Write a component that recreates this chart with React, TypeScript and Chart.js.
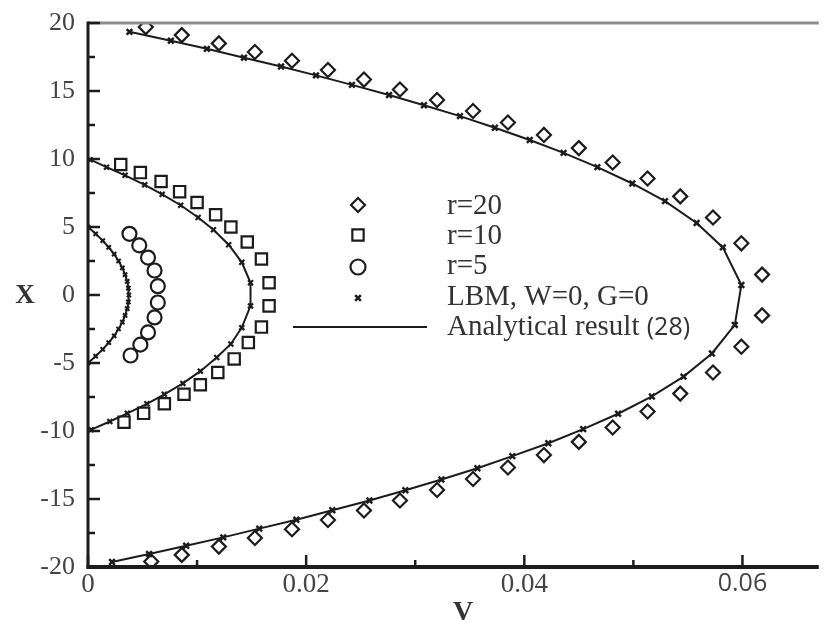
import React, { useEffect, useRef } from 'react';
import { Chart, registerables } from 'chart.js';

Chart.register(...registerables);

// ---------- axis ticks ----------
const xMajorTicks = [0, 0.02, 0.04, 0.06];
const xMinorTicks = [0.01, 0.03, 0.05];
const yMajorTicks = [-20, -15, -10, -5, 0, 5, 10, 15, 20];
const yMinorTicks = [-17.5, -12.5, -7.5, -2.5, 2.5, 7.5, 12.5, 17.5];

// ---------- legend ----------
const legendLabels = ['r=20', 'r=10', 'r=5', 'LBM, W=0, G=0', 'Analytical result '];
const legendSuffix = '(28)';
const xTitle = 'V';
const yTitle = 'X';

// ---------- r = 20 (diamonds) ----------
const r20X = [19.7, 19.11, 18.5, 17.87, 17.22, 16.54, 15.84, 15.11, 14.34, 13.53, 12.68, 11.77, 10.8, 9.74, 8.57, 7.25, 5.7, 3.8, 1.5,
  -1.5, -3.8, -5.7, -7.25, -8.57, -9.74, -10.8, -11.77, -12.68, -13.53, -14.34, -15.11, -15.84, -16.54, -17.22, -17.87, -18.5, -19.11, -19.6];
const r20V = [0.0053, 0.0086, 0.0120, 0.0153, 0.0187, 0.0220, 0.0253, 0.0286, 0.0320, 0.0353, 0.0385, 0.0418, 0.0450, 0.0481, 0.0513, 0.0543, 0.0573, 0.0599, 0.0618,
  0.0618, 0.0599, 0.0573, 0.0543, 0.0513, 0.0481, 0.0450, 0.0418, 0.0385, 0.0353, 0.0320, 0.0286, 0.0253, 0.0220, 0.0187, 0.0153, 0.0120, 0.0086, 0.0058];

// ---------- r = 10 (squares) ----------
const r10X = [9.6, 9.0, 8.35, 7.6, 6.8, 5.9, 5.0, 3.9, 2.65, 0.9, -0.8, -2.36, -3.5, -4.7, -5.7, -6.6, -7.3, -8.0, -8.7, -9.35];
const r10V = [0.0030, 0.0048, 0.0067, 0.0084, 0.0100, 0.0117, 0.0131, 0.0146, 0.0159, 0.0166, 0.0166, 0.0159, 0.0147, 0.0134, 0.0119, 0.0103, 0.0088, 0.0070, 0.0051, 0.0033];

// ---------- r = 5 (circles) ----------
const r5X = [4.5, 3.65, 2.75, 1.8, 0.65, -0.55, -1.65, -2.75, -3.65, -4.45];
const r5V = [0.0038, 0.0047, 0.0055, 0.0061, 0.0064, 0.0064, 0.0061, 0.0055, 0.0048, 0.0039];

// ---------- LBM, W=0, G=0 (crosses, joined by the analytical line) ----------
const lbm20X = [19.35, 18.7, 18.1, 17.45, 16.8, 16.15, 15.45, 14.7, 13.95, 13.15, 12.3, 11.4, 10.45, 9.4, 8.2, 6.9, 5.3, 3.5, 0.74,
  -2.2, -4.3, -6.0, -7.46, -8.73, -9.86, -10.9, -11.85, -12.74, -13.57, -14.36, -15.11, -15.83, -16.52, -17.18, -17.82, -18.44, -19.04, -19.63];
const lbm20V = [0.0038, 0.0076, 0.0109, 0.0143, 0.0177, 0.0209, 0.0242, 0.0276, 0.0308, 0.0341, 0.0373, 0.0405, 0.0436, 0.0467, 0.0499, 0.0529, 0.0558, 0.0582, 0.0599,
  0.0593, 0.0572, 0.0546, 0.0517, 0.0486, 0.0454, 0.0422, 0.0389, 0.0357, 0.0324, 0.0291, 0.0258, 0.0224, 0.0191, 0.0157, 0.0124, 0.0090, 0.0056, 0.0022];

const lbm10X = [9.95, 9.4, 8.8, 8.1, 7.4, 6.6, 5.7, 4.8, 3.7, 2.4, 0.9, -0.8, -2.4, -3.6, -4.6, -5.6, -6.5, -7.3, -8.0, -8.7, -9.3, -9.9];
const lbm10V = [0.0002, 0.0017, 0.0034, 0.0052, 0.0068, 0.0085, 0.0101, 0.0115, 0.0129, 0.0141, 0.0149, 0.0149, 0.0141, 0.0131, 0.0118, 0.0103, 0.0087, 0.0070, 0.0054, 0.0036, 0.0020, 0.0003];

const lbm5X = [5, 4.5, 4, 3.5, 3, 2.5, 2, 1.5, 1, 0.5, 0, -0.5, -1, -1.5, -2, -2.5, -3, -3.5, -4, -4.5, -5];
const lbm5V = [0, 0.0007, 0.00135, 0.0019, 0.0024, 0.0028, 0.00315, 0.0034, 0.0036, 0.0037, 0.00375, 0.0037, 0.0036, 0.0034, 0.00315, 0.0028, 0.0024, 0.0019, 0.00135, 0.0007, 0];

const INK = '#1c1c1c';
const TEXT = '#333333';
const SERIF = '"Liberation Serif", "Times New Roman", serif';
const SANS = '"Open Sans", "Liberation Sans", sans-serif';

const pts = (xs: number[], vs: number[]) => xs.map((X, i) => ({ x: vs[i], y: X }));

function marker(ctx: CanvasRenderingContext2D, style: string, x: number, y: number, r: number) {
  ctx.beginPath();
  if (style === 'rectRot') {
    ctx.moveTo(x, y - r); ctx.lineTo(x + r, y); ctx.lineTo(x, y + r); ctx.lineTo(x - r, y); ctx.closePath();
  } else if (style === 'rect') {
    const s = r * Math.SQRT1_2;
    ctx.rect(x - s, y - s, 2 * s, 2 * s);
  } else if (style === 'circle') {
    ctx.arc(x, y, r, 0, Math.PI * 2);
  } else {
    const s = r * Math.SQRT1_2;
    ctx.moveTo(x - s, y - s); ctx.lineTo(x + s, y + s);
    ctx.moveTo(x + s, y - s); ctx.lineTo(x - s, y + s);
  }
  ctx.stroke();
}

const decorPlugin = {
  id: 'decor',
  afterDraw(chart: any) {
    const { ctx, chartArea: ca, scales } = chart;
    const xs = scales.x;
    const ys = scales.y;
    ctx.save();
    ctx.lineCap = 'butt';
    // top frame line
    ctx.strokeStyle = '#8e8e8e';
    ctx.lineWidth = 3;
    ctx.beginPath(); ctx.moveTo(ca.left, ca.top); ctx.lineTo(ca.right, ca.top); ctx.stroke();
    // left axis
    ctx.strokeStyle = INK;
    ctx.lineWidth = 3;
    ctx.beginPath(); ctx.moveTo(ca.left, ca.top - 1.5); ctx.lineTo(ca.left, ca.bottom + 2); ctx.stroke();
    // bottom axis
    ctx.lineWidth = 4;
    ctx.beginPath(); ctx.moveTo(ca.left - 1.5, ca.bottom); ctx.lineTo(ca.right, ca.bottom); ctx.stroke();
    // y ticks (inward)
    ctx.lineWidth = 2.5;
    yMajorTicks.forEach((v) => {
      const p = ys.getPixelForValue(v);
      ctx.beginPath(); ctx.moveTo(ca.left, p); ctx.lineTo(ca.left + 12, p); ctx.stroke();
    });
    yMinorTicks.forEach((v) => {
      const p = ys.getPixelForValue(v);
      ctx.beginPath(); ctx.moveTo(ca.left, p); ctx.lineTo(ca.left + 7, p); ctx.stroke();
    });
    // x ticks (inward)
    xMajorTicks.forEach((v) => {
      const p = xs.getPixelForValue(v);
      ctx.beginPath(); ctx.moveTo(p, ca.bottom); ctx.lineTo(p, ca.bottom - 12); ctx.stroke();
    });
    xMinorTicks.forEach((v) => {
      const p = xs.getPixelForValue(v);
      ctx.beginPath(); ctx.moveTo(p, ca.bottom); ctx.lineTo(p, ca.bottom - 7); ctx.stroke();
    });
    // axis titles
    ctx.fillStyle = TEXT;
    ctx.font = `bold 27px ${SERIF}`;
    ctx.textAlign = 'center';
    ctx.textBaseline = 'middle';
    ctx.fillText(yTitle, 25, 296);
    ctx.textBaseline = 'alphabetic';
    ctx.font = `bold 28px ${SERIF}`;
    ctx.fillText(xTitle, 463, 620);

    // legend
    const mx = 358;
    const tx = 447;
    const markerY = [205, 235, 267, 298];
    const textY = [206, 236, 266, 297, 327];
    const styles = ['rectRot', 'rect', 'circle', 'crossRot'];
    const radii = [7, 8, 7.5, 4];
    ctx.strokeStyle = INK;
    styles.forEach((s, i) => {
      ctx.lineWidth = s === 'crossRot' ? 2.5 : 2.2;
      marker(ctx, s, mx, markerY[i], radii[i]);
    });
    ctx.lineWidth = 2;
    ctx.beginPath(); ctx.moveTo(293, 327); ctx.lineTo(427, 327); ctx.stroke();
    ctx.fillStyle = TEXT;
    ctx.textAlign = 'left';
    ctx.textBaseline = 'middle';
    ctx.font = `29px ${SERIF}`;
    legendLabels.forEach((t, i) => {
      ctx.fillText(t, tx, textY[i]);
    });
    const w = ctx.measureText(legendLabels[4]).width;
    ctx.font = `25px ${SANS}`;
    ctx.fillText(legendSuffix, tx + w, textY[4] + 1);
    ctx.restore();
  },
};

export default function App() {
  const ref = useRef<HTMLCanvasElement | null>(null);
  useEffect(() => {
    if (!ref.current) return;
    const lineDs = (xs: number[], vs: number[]) => ({
      label: 'Analytical result (28)',
      data: pts(xs, vs),
      showLine: true,
      borderColor: INK,
      borderWidth: 2,
      pointRadius: 0,
      tension: 0,
      fill: false,
    });
    const markDs = (label: string, xs: number[], vs: number[], style: string, r: number, bw: number) => ({
      label,
      data: pts(xs, vs),
      showLine: false,
      pointStyle: style,
      pointRadius: r,
      pointBorderWidth: bw,
      pointBorderColor: INK,
      pointBackgroundColor: 'rgba(0,0,0,0)',
      borderColor: INK,
      backgroundColor: 'rgba(0,0,0,0)',
    });
    const chart = new Chart(ref.current, {
      type: 'scatter',
      data: {
        datasets: [
          lineDs(lbm20X, lbm20V),
          lineDs(lbm10X, lbm10V),
          lineDs(lbm5X, lbm5V),
          markDs('r=20', r20X, r20V, 'rectRot', 7, 2.2),
          markDs('r=10', r10X, r10V, 'rect', 8, 2.2),
          markDs('r=5', r5X, r5V, 'circle', 7, 2.2),
          markDs('LBM, W=0, G=0', lbm20X, lbm20V, 'crossRot', 4, 2.5),
          markDs('LBM, W=0, G=0', lbm10X, lbm10V, 'crossRot', 3.5, 2.2),
          markDs('LBM, W=0, G=0', lbm5X, lbm5V, 'crossRot', 3, 2),
        ] as any,
      },
      options: {
        responsive: false,
        animation: false,
        layout: { padding: { top: 23, right: 0, left: 0, bottom: 0 } },
        plugins: { legend: { display: false }, tooltip: { enabled: false } },
        scales: {
          x: {
            type: 'linear',
            min: 0,
            max: 0.067,
            grid: { display: false, drawTicks: false },
            border: { display: false },
            afterBuildTicks: (s: any) => { s.ticks = xMajorTicks.map((v) => ({ value: v })); },
            afterFit: (s: any) => {
              s.height = 53;
              s.paddingLeft = 0; s.paddingRight = 0; s.paddingTop = 0; s.paddingBottom = 0;
            },
            ticks: {
              padding: 2,
              color: '#444',
              maxRotation: 0,
              font: (c: any) => (c.tick && Math.abs(c.tick.value - 0.06) < 1e-9
                ? { family: SANS, size: 25 }
                : { family: SERIF, size: 27 }),
              callback: (v: any) => (Number(v) === 0 ? '0' : Number(v).toFixed(2)),
            },
          },
          y: {
            type: 'linear',
            min: -20,
            max: 20,
            grid: { display: false, drawTicks: false },
            border: { display: false },
            afterBuildTicks: (s: any) => { s.ticks = yMajorTicks.map((v) => ({ value: v })); },
            afterFit: (s: any) => {
              s.width = 88;
              s.paddingLeft = 0; s.paddingRight = 0; s.paddingTop = 0; s.paddingBottom = 0;
            },
            ticks: {
              padding: 13,
              color: '#444',
              font: { family: SERIF, size: 26 },
              callback: (v: any) => String(v),
            },
          },
        },
      } as any,
      plugins: [decorPlugin],
    });
    return () => chart.destroy();
  }, []);
  return (
    <div style={{ position: 'fixed', left: 0, top: 0, width: 829, height: 620, background: '#fff' }}>
      <canvas ref={ref} width={829} height={620} style={{ display: 'block' }} />
    </div>
  );
}
